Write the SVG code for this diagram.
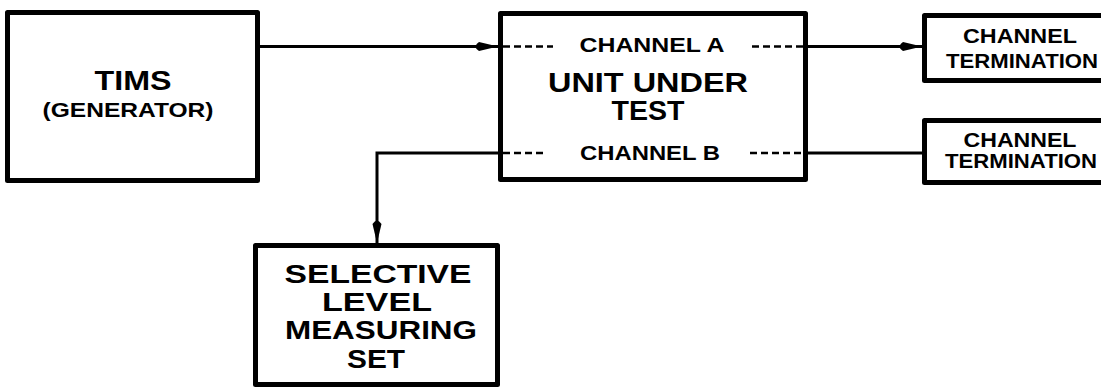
<svg xmlns="http://www.w3.org/2000/svg" width="1101" height="389" viewBox="0 0 1101 389">
<style>
.box{fill:#fff;stroke:#000;stroke-width:5;stroke-linejoin:round}
.t{font-family:"Liberation Sans",Arial,sans-serif;font-weight:bold;fill:#000;text-anchor:middle}
.wire{fill:none;stroke:#000;stroke-width:3}
.dash{fill:none;stroke:#000;stroke-width:2.5;stroke-dasharray:7 4}
</style>
<defs>
<marker id="arr" viewBox="0 0 26 10" refX="26" refY="5" markerWidth="26" markerHeight="10" markerUnits="userSpaceOnUse" orient="auto">
<path d="M26,5 L7,0.5 Q0,5 7,9.5 Z" fill="#000"/>
</marker>
</defs>
<rect width="1101" height="389" fill="#fff"/>
<g id="connectors">
<line class="wire" x1="260" y1="46.5" x2="498" y2="46.5" marker-end="url(#arr)"/>
<line class="wire" x1="808" y1="46.5" x2="922" y2="46.5" marker-end="url(#arr)"/>
<line class="wire" x1="808" y1="153" x2="922" y2="153"/>
<polyline class="wire" points="499,153 377,153 377,243" marker-end="url(#arr)"/>
</g>
<g id="tims">
<rect class="box" x="7.5" y="12.5" width="250" height="168"/>
<text class="t" x="133" y="90" font-size="28" textLength="77" lengthAdjust="spacingAndGlyphs">TIMS</text>
<text class="t" x="128" y="117" font-size="21" textLength="171" lengthAdjust="spacingAndGlyphs">(GENERATOR)</text>
</g>
<g id="uut">
<rect class="box" x="500.5" y="13.5" width="305" height="166"/>
<line class="dash" x1="503" y1="46.5" x2="553" y2="46.5"/>
<line class="dash" x1="752" y1="46.5" x2="806" y2="46.5"/>
<line class="dash" x1="503" y1="153" x2="543" y2="153"/>
<line class="dash" x1="750" y1="153" x2="806" y2="153"/>
<text class="t" x="652" y="52" font-size="20" textLength="145" lengthAdjust="spacingAndGlyphs">CHANNEL A</text>
<text class="t" x="648" y="92" font-size="27" textLength="200" lengthAdjust="spacingAndGlyphs">UNIT UNDER</text>
<text class="t" x="648" y="120" font-size="27" textLength="73" lengthAdjust="spacingAndGlyphs">TEST</text>
<text class="t" x="650" y="160" font-size="20" textLength="140" lengthAdjust="spacingAndGlyphs">CHANNEL B</text>
</g>
<g id="termA">
<rect class="box" x="924.5" y="15.5" width="200" height="65"/>
<text class="t" x="1020" y="43" font-size="21" textLength="114" lengthAdjust="spacingAndGlyphs">CHANNEL</text>
<text class="t" x="946" y="68" font-size="21" textLength="152" lengthAdjust="spacingAndGlyphs" style="text-anchor:start">TERMINATION</text>
</g>
<g id="termB">
<rect class="box" x="924.5" y="120.5" width="200" height="62"/>
<text class="t" x="1020" y="147" font-size="21" textLength="113" lengthAdjust="spacingAndGlyphs">CHANNEL</text>
<text class="t" x="945" y="168" font-size="21" textLength="152" lengthAdjust="spacingAndGlyphs" style="text-anchor:start">TERMINATION</text>
</g>
<g id="slms">
<rect class="box" x="255.5" y="245.5" width="242" height="139"/>
<text class="t" x="378" y="283" font-size="26" textLength="187" lengthAdjust="spacingAndGlyphs">SELECTIVE</text>
<text class="t" x="377" y="311" font-size="26" textLength="110" lengthAdjust="spacingAndGlyphs">LEVEL</text>
<text class="t" x="381" y="339" font-size="26" textLength="192" lengthAdjust="spacingAndGlyphs">MEASURING</text>
<text class="t" x="376" y="368" font-size="26" textLength="58" lengthAdjust="spacingAndGlyphs">SET</text>
</g>
</svg>
